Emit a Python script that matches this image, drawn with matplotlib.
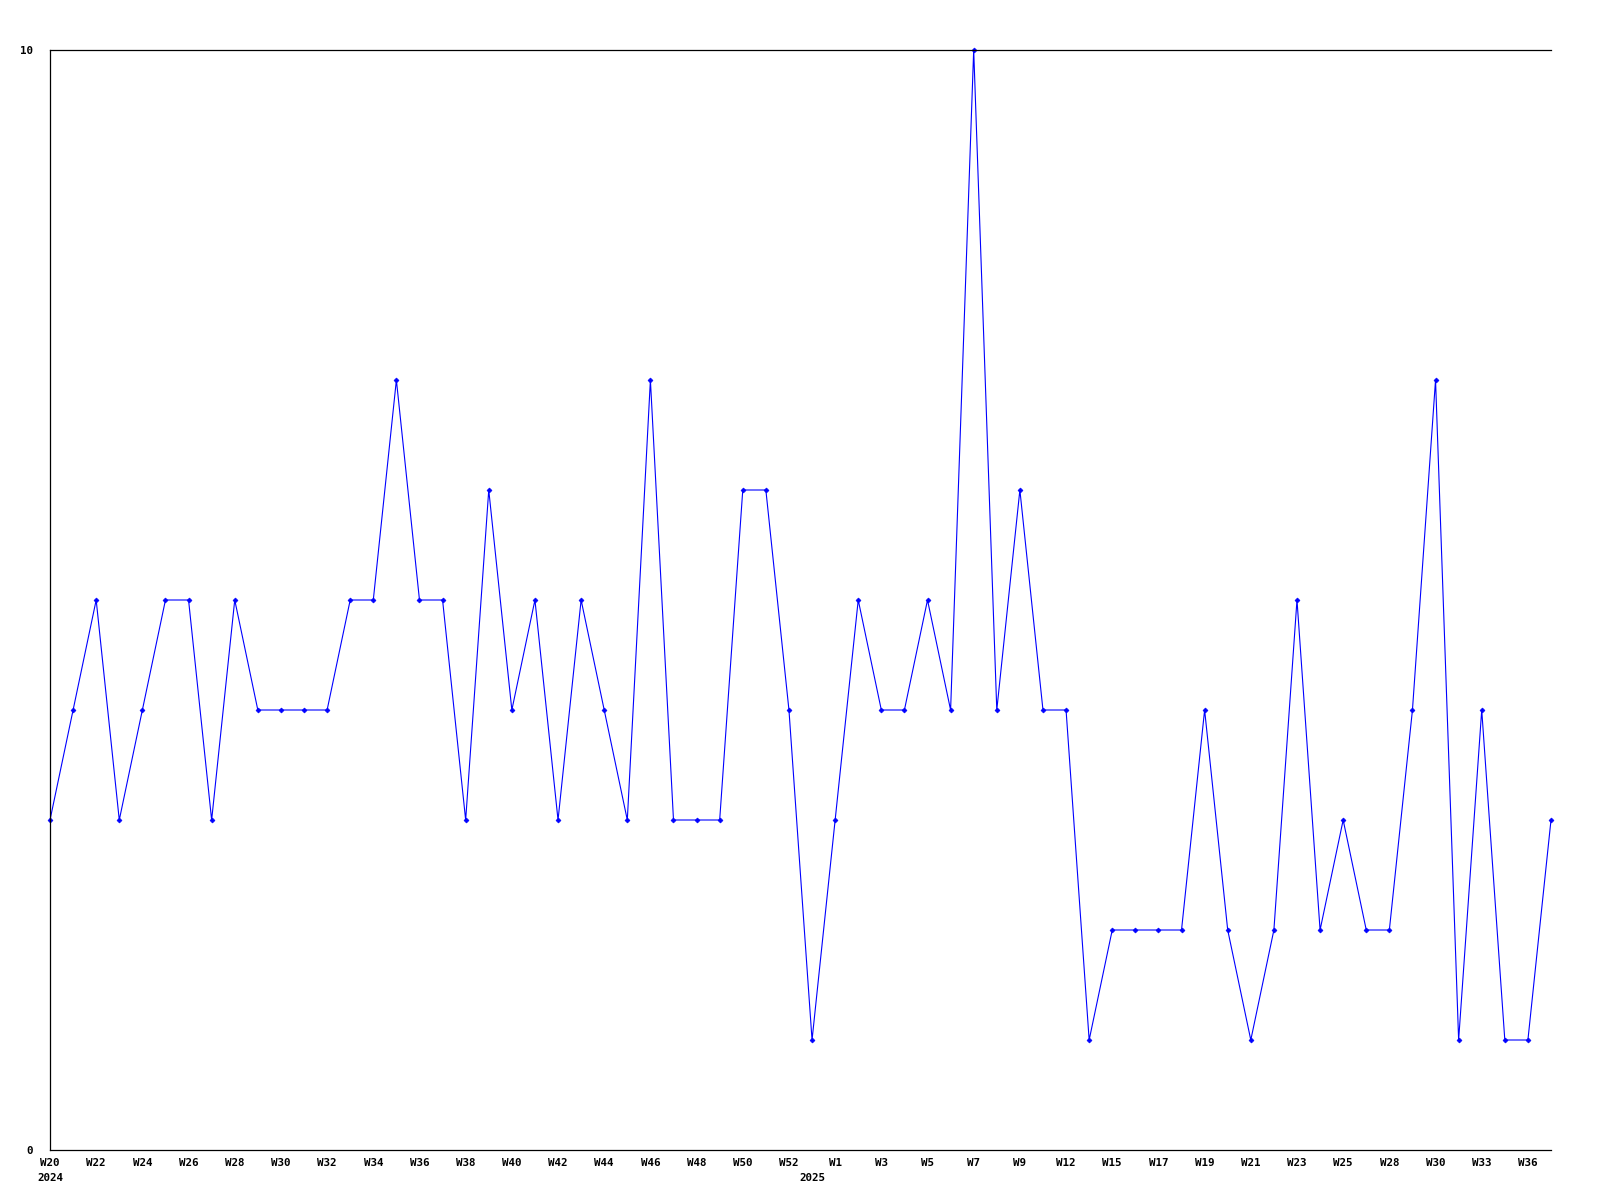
import matplotlib
matplotlib.use("Agg")
import matplotlib.pyplot as plt
import numpy as np

# weekly values, W20 2024 .. W38 2025
week_labels = [
    "W20", "W21", "W22", "W23", "W24", "W25", "W26", "W27", "W28", "W29",
    "W30", "W31", "W32", "W33", "W34", "W35", "W36", "W37", "W38", "W39",
    "W40", "W41", "W42", "W43", "W44", "W45", "W46", "W47", "W48", "W49",
    "W50", "W51", "W52",
    "W0", "W1", "W2", "W3", "W4", "W5", "W6", "W7", "W8", "W9", "W11",
    "W12", "W14", "W15", "W16", "W17", "W18", "W19", "W20", "W21", "W22",
    "W23", "W24", "W25", "W27", "W28", "W29", "W30", "W32", "W33", "W35",
    "W36", "W38",
]
values = [
    3, 4, 5, 3, 4, 5, 5, 3, 5, 4,
    4, 4, 4, 5, 5, 7, 5, 5, 3, 6,
    4, 5, 3, 5, 4, 3, 7, 3, 3, 3,
    6, 6, 4,
    1, 3, 5, 4, 4, 5, 4, 10, 4, 6, 4,
    4, 1, 2, 2, 2, 2, 4, 2, 1, 2,
    5, 2, 3, 2, 2, 4, 7, 1, 4, 1,
    1, 3,
]
year_marks = {0: "2024", 33: "2025"}

font = dict(family="DejaVu Sans Mono", fontweight="bold", fontsize=7.8)

fig = plt.figure(figsize=(16, 12), dpi=100)
ax = fig.add_axes([50 / 1600, 50 / 1200, 1501 / 1600, 1100 / 1200])

xs = np.arange(len(values))
ax.plot(xs, values, color="#0000ff", linewidth=0.8, marker="D", markersize=2.5,
        markeredgewidth=0.5, clip_on=False)

ax.set_xlim(0, len(values) - 1)
ax.set_ylim(0, 10)

ax.spines["right"].set_visible(False)
for s in ("left", "top", "bottom"):
    ax.spines[s].set_linewidth(0.9)
    ax.spines[s].set_color("black")

ax.set_yticks([0, 10])
ax.set_yticklabels(["0", "10"], **font)
ax.tick_params(axis="y", length=0, pad=12)

ax.set_xticks(xs[::2])
ax.set_xticklabels(week_labels[::2], **font)
ax.tick_params(axis="x", length=0, pad=6)

for i, yr in year_marks.items():
    ax.annotate(yr, xy=(i, 0), xycoords=("data", "axes fraction"),
                xytext=(0, -23), textcoords="offset pixels",
                ha="center", va="top", **font)

fig.savefig("out.png", dpi=100)
